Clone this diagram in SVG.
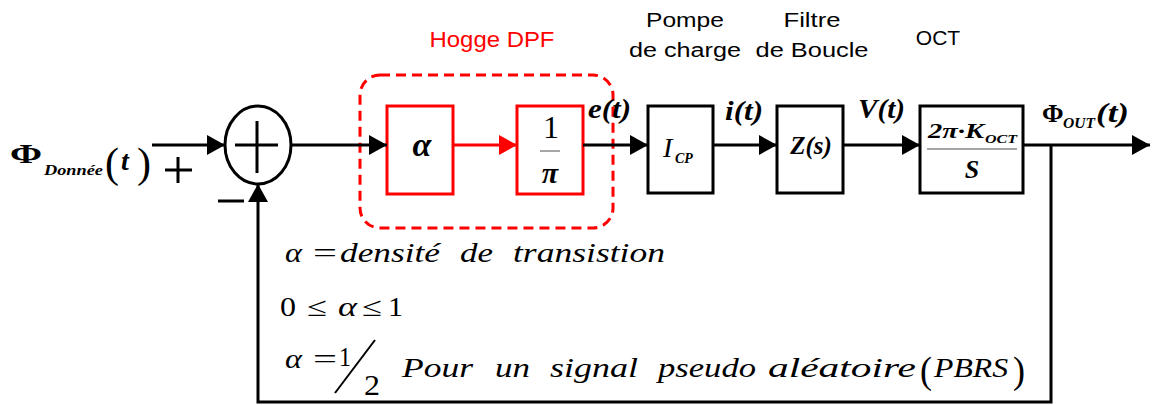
<svg xmlns="http://www.w3.org/2000/svg" width="1152" height="405" viewBox="0 0 1152 405">
<style>
.blk{fill:none;stroke:#000;stroke-width:3}
.red{fill:none;stroke:#f00;stroke-width:3}
.ln{fill:none;stroke:#000;stroke-width:3}
.sans{font-family:"Liberation Sans",Arial,sans-serif}
.ser{font-family:"Liberation Serif","DejaVu Serif","Times New Roman",serif}
.bi{font-family:"Liberation Serif","DejaVu Serif","Times New Roman",serif;font-weight:bold;font-style:italic}
.it{font-family:"Liberation Serif","DejaVu Serif","Times New Roman",serif;font-style:italic}
.frac{stroke:#888;stroke-width:1.5}
</style>
<defs>
<marker id="ah" viewBox="0 0 18 20" refX="18" refY="10" markerWidth="18" markerHeight="20" markerUnits="userSpaceOnUse" orient="auto">
<path d="M0,0 L18,10 L0,20 z" fill="#000"/>
</marker>
<marker id="ahr" viewBox="0 0 18 20" refX="18" refY="10" markerWidth="18" markerHeight="20" markerUnits="userSpaceOnUse" orient="auto">
<path d="M0,0 L18,10 L0,20 z" fill="#f00"/>
</marker>
</defs>
<rect width="1152" height="405" fill="#fff"/>

<g id="hogge">
<rect x="360" y="75" width="253" height="153" rx="20" ry="20" fill="none" stroke="#f00" stroke-width="3" stroke-dasharray="10 6"/>
<text x="492" y="47" class="sans" font-size="22" fill="#f00" text-anchor="middle" textLength="125" lengthAdjust="spacingAndGlyphs">Hogge DPF</text>
</g>

<g id="sum">
<ellipse cx="258" cy="145" rx="33" ry="39" class="blk"/>
<path d="M235,145 H278 M257,121 V173" class="ln" stroke-width="2.5"/>
<path d="M165,170 H192 M178,157 V183" class="ln"/>
<path d="M218,201 H244" class="ln"/>
</g>

<g id="input-label">
<text x="10" y="163" class="ser" font-weight="bold" font-size="28" textLength="32" lengthAdjust="spacingAndGlyphs">Φ</text>
<text x="44" y="175" class="bi" font-size="15" textLength="59" lengthAdjust="spacingAndGlyphs">Donnée</text>
<text x="105" y="177" class="ser" font-size="42">(</text>
<text x="121" y="170" class="bi" font-size="28">t</text>
<text x="137" y="177" class="ser" font-size="42">)</text>
</g>

<g id="alpha">
<rect x="387" y="106" width="66" height="88" class="red"/>
<text x="422" y="156" class="bi" font-size="34" text-anchor="middle">α</text>
</g>

<g id="inv-pi">
<rect x="517" y="106" width="66" height="88" class="red"/>
<text x="551" y="138" class="ser" font-size="32" text-anchor="middle">1</text>
<line x1="540" y1="151" x2="560" y2="151" class="frac"/>
<text x="550" y="183" class="bi" font-size="30" text-anchor="middle">π</text>
</g>

<g id="icp">
<rect x="648" y="106" width="65" height="87" class="blk"/>
<text x="663" y="157" class="it" font-size="28">I</text>
<text x="675" y="163" class="bi" font-size="14">CP</text>
<text x="685" y="27" class="sans" font-size="20" text-anchor="middle" textLength="78" lengthAdjust="spacingAndGlyphs">Pompe</text>
<text x="685" y="57" class="sans" font-size="20" text-anchor="middle" textLength="112" lengthAdjust="spacingAndGlyphs">de charge</text>
</g>

<g id="filtre">
<rect x="777" y="106" width="66" height="87" class="blk"/>
<text x="811" y="154" class="bi" font-size="25" text-anchor="middle">Z(s)</text>
<text x="812" y="27" class="sans" font-size="21" text-anchor="middle" textLength="57" lengthAdjust="spacingAndGlyphs">Filtre</text>
<text x="812" y="57" class="sans" font-size="21" text-anchor="middle" textLength="113" lengthAdjust="spacingAndGlyphs">de Boucle</text>
</g>

<g id="oct">
<rect x="920" y="106" width="103" height="87" class="blk"/>
<text x="928" y="138" class="bi" font-size="21" textLength="56" lengthAdjust="spacingAndGlyphs">2π·K</text>
<text x="985" y="143" class="bi" font-size="12" textLength="32" lengthAdjust="spacingAndGlyphs">OCT</text>
<line x1="927" y1="149" x2="1017" y2="149" class="frac"/>
<text x="972" y="178" class="bi" font-size="26" text-anchor="middle">S</text>
<text x="938" y="45" class="sans" font-size="21" text-anchor="middle">OCT</text>
</g>

<g id="signal-labels">
<text x="588" y="118" class="bi" font-size="28" textLength="43" lengthAdjust="spacingAndGlyphs">e(t)</text>
<text x="725" y="120" class="bi" font-size="28" textLength="38" lengthAdjust="spacingAndGlyphs">i(t)</text>
<text x="858" y="118" class="bi" font-size="28" textLength="47" lengthAdjust="spacingAndGlyphs">V(t)</text>
<text x="1042" y="122" class="ser" font-weight="bold" font-size="26">Φ</text>
<text x="1063" y="128" class="bi" font-size="14" textLength="32" lengthAdjust="spacingAndGlyphs">OUT</text>
<text x="1096" y="122" class="bi" font-size="28" textLength="33" lengthAdjust="spacingAndGlyphs">(t)</text>
</g>

<g id="connectors">
<path d="M152,145 H225" class="ln" marker-end="url(#ah)"/>
<path d="M291,145 H387" class="ln" marker-end="url(#ah)"/>
<path d="M453,145 H517" class="red" marker-end="url(#ahr)"/>
<path d="M583,145 H648" class="ln" marker-end="url(#ah)"/>
<path d="M713,145 H777" class="ln" marker-end="url(#ah)"/>
<path d="M843,145 H920" class="ln" marker-end="url(#ah)"/>
<path d="M1023,145 H1150" class="ln" marker-end="url(#ah)"/>
<path d="M1051,145 V402 H258 V184" class="ln" marker-end="url(#ah)"/>
</g>

<g id="notes">
<text x="285" y="262" class="it" font-size="27" textLength="17" lengthAdjust="spacingAndGlyphs">α</text>
<text x="313" y="262" class="ser" font-size="27" textLength="24" lengthAdjust="spacingAndGlyphs">=</text>
<text x="340" y="262" class="it" font-size="27" textLength="100" lengthAdjust="spacingAndGlyphs">densité</text>
<text x="460" y="262" class="it" font-size="27" textLength="33" lengthAdjust="spacingAndGlyphs">de</text>
<text x="513" y="262" class="it" font-size="27" textLength="152" lengthAdjust="spacingAndGlyphs">transistion</text>

<text x="280" y="316" class="ser" font-size="27" textLength="16" lengthAdjust="spacingAndGlyphs">0</text>
<text x="307" y="316" class="ser" font-size="27" textLength="20" lengthAdjust="spacingAndGlyphs">≤</text>
<text x="338" y="316" class="it" font-size="27" textLength="19" lengthAdjust="spacingAndGlyphs">α</text>
<text x="362" y="316" class="ser" font-size="27" textLength="20" lengthAdjust="spacingAndGlyphs">≤</text>
<text x="388" y="316" class="ser" font-size="27" textLength="15" lengthAdjust="spacingAndGlyphs">1</text>

<text x="285" y="368" class="it" font-size="27" textLength="17" lengthAdjust="spacingAndGlyphs">α</text>
<text x="313" y="368" class="ser" font-size="27" textLength="24" lengthAdjust="spacingAndGlyphs">=</text>
<text x="339" y="366" class="ser" font-size="28" textLength="12" lengthAdjust="spacingAndGlyphs">1</text>
<line x1="335" y1="393" x2="375" y2="340" stroke="#000" stroke-width="2"/>
<text x="364" y="395" class="ser" font-size="30" textLength="16" lengthAdjust="spacingAndGlyphs">2</text>
<text x="402" y="377" class="it" font-size="27" textLength="71" lengthAdjust="spacingAndGlyphs">Pour</text>
<text x="495" y="377" class="it" font-size="27" textLength="35" lengthAdjust="spacingAndGlyphs">un</text>
<text x="550" y="377" class="it" font-size="27" textLength="88" lengthAdjust="spacingAndGlyphs">signal</text>
<text x="658" y="377" class="it" font-size="27" textLength="98" lengthAdjust="spacingAndGlyphs">pseudo</text>
<text x="768" y="377" class="it" font-size="27" textLength="148" lengthAdjust="spacingAndGlyphs">aléatoire</text>
<text x="920" y="383" class="ser" font-size="38" textLength="12" lengthAdjust="spacingAndGlyphs">(</text>
<text x="934" y="377" class="it" font-size="27" textLength="74" lengthAdjust="spacingAndGlyphs">PBRS</text>
<text x="1013" y="383" class="ser" font-size="38" textLength="12" lengthAdjust="spacingAndGlyphs">)</text>
</g>
</svg>
